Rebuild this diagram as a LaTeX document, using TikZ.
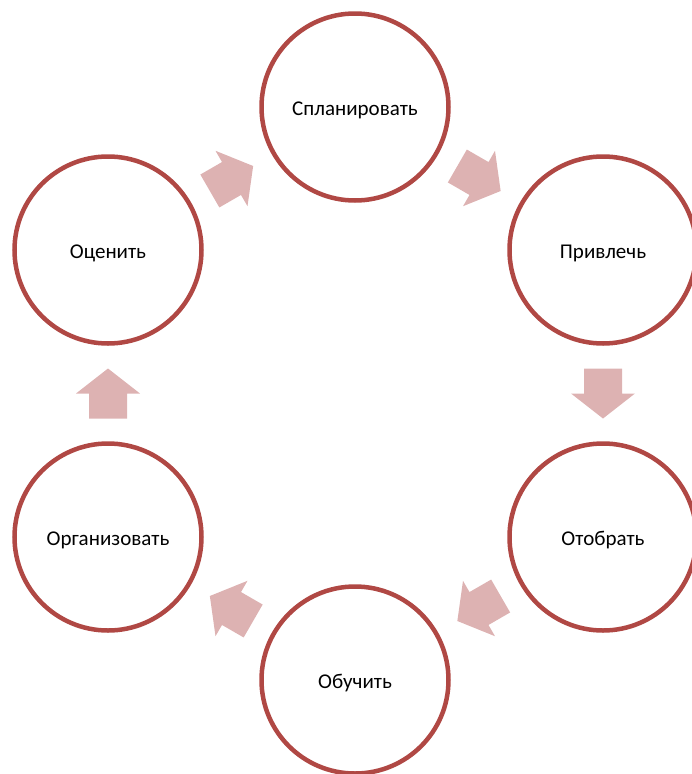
\documentclass[tikz,border=0pt]{standalone}
\usepackage{fontspec}
\setmainfont{Carlito}
\usetikzlibrary{calc}
\definecolor{ringred}{RGB}{176,72,68}
\definecolor{arrowpink}{RGB}{221,178,178}
\tikzset{
  stage/.style={circle, draw=ringred, line width=4.5pt, minimum size=187pt, inner sep=0pt,
    font=\fontsize{21}{25}\selectfont, text=black, text height=16pt, text depth=0pt},
  blockarrow/.style={fill=arrowpink, draw=none}
}
\newcommand{\flowarrow}[3]{%
  \begin{scope}[shift={($(#1)!0.5!(#2)$)}, rotate=#3]
    \fill[blockarrow] (-25,-19) -- (0,-19) -- (0,-32) -- (25,0) -- (0,32) -- (0,19) -- (-25,19) -- cycle;
  \end{scope}}
\begin{document}
\begin{tikzpicture}[x=1pt, y=-1pt]
  \useasboundingbox (0,0) rectangle (691,774);
  \node[stage] (plan) at (355,107) {Спланировать};
  \node[stage] (attract) at (603,250) {Привлечь};
  \node[stage] (select) at (603,537) {Отобрать};
  \node[stage] (train) at (355,680) {Обучить};
  \node[stage] (organize) at (108,537) {Организовать};
  \node[stage] (assess) at (108,250) {Оценить};
  \flowarrow{plan}{attract}{-30}
  \flowarrow{attract}{select}{-90}
  \flowarrow{select}{train}{-150}
  \flowarrow{train}{organize}{150}
  \flowarrow{organize}{assess}{90}
  \flowarrow{assess}{plan}{30}
\end{tikzpicture}
\end{document}
